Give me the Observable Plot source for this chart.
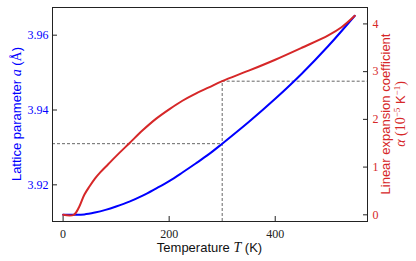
<!DOCTYPE html>
<html><head>
<meta charset="utf-8">
<script src="https://cdn.jsdelivr.net/npm/d3@7"></script>
<script src="https://cdn.jsdelivr.net/npm/@observablehq/plot@0.6"></script>
<style>body{margin:0;background:#fff}</style>
</head><body><div id="chart"></div>
<script>
// Lattice parameter a (Å) vs temperature T (K)
const latticeT = [0, 20, 40, 60, 80, 100, 125, 150, 175, 200, 225, 250, 275, 300, 350, 400, 450, 500, 550];
const latticeA = [3.9120, 3.9120, 3.9121, 3.9126, 3.9133, 3.9142, 3.9155, 3.9171, 3.9190, 3.9210, 3.9233, 3.9257, 3.9282, 3.9310, 3.9368, 3.9430, 3.9497, 3.9571, 3.9652];
// Linear expansion coefficient α (1e-5 /K) vs T
const alphaT = [0, 20, 30, 40, 50, 60, 70, 85, 100, 125, 150, 175, 200, 225, 250, 275, 300, 350, 400, 450, 500, 525, 550];
const alphaV = [0, 0, 0.16, 0.42, 0.60, 0.76, 0.89, 1.06, 1.23, 1.50, 1.77, 2.01, 2.21, 2.39, 2.54, 2.67, 2.80, 3.02, 3.25, 3.50, 3.76, 3.93, 4.17];
const xTicks = [0, 200, 400];
const leftTicks = [3.92, 3.94, 3.96];
const rightTicks = [0, 1, 2, 3, 4];
const refT = 300;
const refA = 3.931;
const refAlpha = 2.80;

const xDomain = [-20, 574];
const leftDomain = [3.9102, 3.9674];
const rightDomain = [-0.14, 4.344];
const k = (leftDomain[1] - leftDomain[0]) / (rightDomain[1] - rightDomain[0]);
const toLeft = v => leftDomain[0] + (v - rightDomain[0]) * k;
const fromLeft = v => rightDomain[0] + (v - leftDomain[0]) / k;

const blueData = latticeT.map((t, i) => ({t, v: latticeA[i]}));
const redData = alphaT.map((t, i) => ({t, v: toLeft(alphaV[i])}));

const BLUE = "#0000ff", RED = "#d62728", DASH = "#555";
const W = 416, H = 261, mL = 52, mR = 49, mT = 7, mB = 40;

const svg = Plot.plot({
  width: W, height: H,
  marginLeft: mL, marginRight: mR, marginTop: mT, marginBottom: mB,
  style: {fontFamily: "Liberation Serif", fontSize: "12px", background: "#fff"},
  x: {domain: xDomain, label: null},
  y: {domain: leftDomain, label: null},
  marks: [
    Plot.ruleY([refA], {x1: xDomain[0], x2: refT, stroke: DASH, strokeWidth: 0.9, strokeDasharray: "3,2"}),
    Plot.ruleX([refT], {y1: leftDomain[0], y2: toLeft(refAlpha), stroke: DASH, strokeWidth: 0.9, strokeDasharray: "3,2"}),
    Plot.ruleY([toLeft(refAlpha)], {x1: refT, x2: xDomain[1], stroke: DASH, strokeWidth: 0.9, strokeDasharray: "3,2"}),
    Plot.line(blueData, {x: "t", y: "v", stroke: BLUE, strokeWidth: 2, curve: "catmull-rom"}),
    Plot.line(redData, {x: "t", y: "v", stroke: RED, strokeWidth: 2, curve: "catmull-rom"}),
    Plot.frame({stroke: "#222", strokeWidth: 1}),
    // x axis
    Plot.axisX({ticks: xTicks, tickSize: 5, fill: "none", stroke: "#222", label: null}),
    Plot.axisX({ticks: xTicks, tickSize: 0, tickPadding: 8, fill: "#222", label: null, fontSize: 12}),
    // left axis
    Plot.axisY({ticks: leftTicks, tickSize: 5, fill: "none", stroke: "#222", label: null}),
    Plot.axisY({ticks: leftTicks, tickSize: 0, tickPadding: 4, fill: BLUE, label: null, tickFormat: d3.format(".2f"), fontSize: 12}),
    // right axis
    Plot.axisY({anchor: "right", ticks: rightTicks.map(toLeft), tickSize: 5, fill: "none", stroke: "#222", label: null}),
    Plot.axisY({anchor: "right", ticks: rightTicks.map(toLeft), tickSize: 0, tickPadding: 5, fill: RED, label: null,
      tickFormat: d => String(Math.round(fromLeft(d))), fontSize: 12})
  ]
});

const s = d3.select(svg);
// turn the axis ticks inward, as in the reference
s.selectAll('g[aria-label="x-axis tick"] path').attr("d", "M0,0L0,-5");
s.selectAll('g[aria-label="y-axis tick"] path').each(function() {
  const m = /translate\(([-\d.]+)/.exec(this.getAttribute("transform") || "");
  const x = m ? +m[1] : 0;
  this.setAttribute("d", x > W / 2 ? "M0,0L-5,0" : "M0,0L5,0");
});

const cx = mL + (W - mL - mR) / 2;
const cy = mT + (H - mT - mB) / 2;
const sans = "Liberation Sans, Arial, sans-serif";
const serif = "Liberation Serif, serif";

// x label
const xl = s.append("text").attr("x", cx).attr("y", 252).attr("text-anchor", "middle")
  .attr("font-family", sans).attr("font-size", 13).attr("fill", "#111");
xl.append("tspan").text("Temperature ");
xl.append("tspan").attr("font-family", serif).attr("font-style", "italic").attr("font-size", 14).text("T");
xl.append("tspan").text(" (K)");

// left label
const yl = s.append("text").attr("transform", `translate(21,${cy}) rotate(-90)`).attr("text-anchor", "middle")
  .attr("font-family", sans).attr("font-size", 13).attr("fill", BLUE);
yl.append("tspan").text("Lattice parameter ");
yl.append("tspan").attr("font-family", serif).attr("font-style", "italic").attr("font-size", 14).text("a");
yl.append("tspan").text(" (");
yl.append("tspan").attr("font-family", serif).attr("font-size", 14).text("Å");
yl.append("tspan").text(")");

// right label, two lines
s.append("text").attr("transform", `translate(390,${cy}) rotate(-90)`).attr("text-anchor", "middle")
  .attr("font-family", sans).attr("font-size", 13).attr("fill", RED).text("Linear expansion coefficient");
const rl2 = s.append("text").attr("transform", `translate(405,${cy}) rotate(-90)`).attr("text-anchor", "middle")
  .attr("font-family", sans).attr("font-size", 13).attr("fill", RED);
rl2.append("tspan").attr("font-family", serif).attr("font-style", "italic").attr("font-size", 14).text("α");
rl2.append("tspan").attr("font-family", serif).attr("font-size", 14).text(" (10");
rl2.append("tspan").attr("font-family", serif).attr("font-size", 9).attr("dy", -5).text("−5");
rl2.append("tspan").attr("dy", 5).text(" K");
rl2.append("tspan").attr("font-family", serif).attr("font-size", 9).attr("dy", -5).text("−1");
rl2.append("tspan").attr("dy", 5).attr("font-family", serif).attr("font-size", 14).text(")");

document.getElementById("chart").appendChild(svg);
</script>
</body></html>
